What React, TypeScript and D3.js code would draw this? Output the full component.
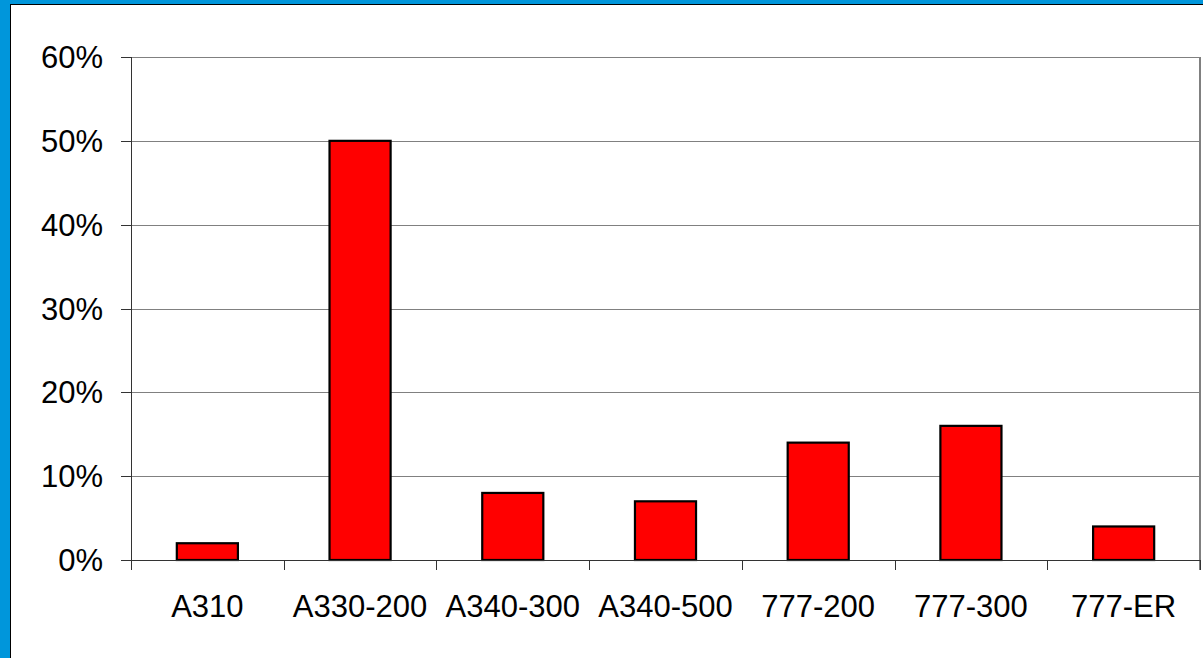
import React from "react";
import * as d3 from "d3";

// Share of fleet by aircraft type
const categories = ["A310", "A330-200", "A340-300", "A340-500", "777-200", "777-300", "777-ER"];
const shares = [2, 50, 8, 7, 14, 16, 4];
const yTicks = [0, 10, 20, 30, 40, 50, 60];

const W = 1203;
const H = 658;
const plot = { left: 131, top: 57, right: 1200, bottom: 560 };
const FONT = "'Liberation Sans', Arial, sans-serif";

export default function App() {
  const x = d3
    .scaleBand<string>()
    .domain(categories)
    .range([plot.left, plot.right])
    .paddingInner(0.6)
    .paddingOuter(0.3);
  const band = d3.scaleBand<string>().domain(categories).range([plot.left, plot.right]);
  const y = d3.scaleLinear().domain([0, 60]).range([plot.bottom, plot.top]);

  const boundaries = d3.range(categories.length + 1).map((i) => plot.left + i * band.step());

  return (
    <svg
      width={W}
      height={H}
      style={{ position: "fixed", left: 0, top: 0, display: "block" }}
      fontFamily={FONT}
    >
      <rect x={0} y={0} width={W} height={H} fill="#ffffff" />
      {/* frame */}
      <rect x={0} y={0} width={W} height={4} fill="#0096DB" />
      <rect x={0} y={0} width={10} height={H} fill="#0096DB" />
      <line x1={10.5} y1={4} x2={10.5} y2={H} stroke="#000" strokeWidth={1} />
      <line x1={10} y1={4.5} x2={W} y2={4.5} stroke="#000" strokeWidth={1} />

      {/* gridlines */}
      {yTicks.map((t) => (
        <line
          key={"g" + t}
          x1={plot.left}
          x2={plot.right}
          y1={Math.round(y(t)) + 0.5}
          y2={Math.round(y(t)) + 0.5}
          stroke="#808080"
          strokeWidth={1}
        />
      ))}
      <line
        x1={plot.right}
        x2={plot.right}
        y1={plot.top}
        y2={plot.bottom + 10}
        stroke="#808080"
        strokeWidth={2}
      />

      {/* bars */}
      {categories.map((c, i) => (
        <rect
          key={c}
          x={x(c)!}
          y={y(shares[i])}
          width={x.bandwidth()}
          height={y(0) - y(shares[i])}
          fill="#FF0000"
          stroke="#000"
          strokeWidth={2.2}
        />
      ))}

      {/* y axis */}
      <line x1={plot.left + 0.5} x2={plot.left + 0.5} y1={plot.top} y2={plot.bottom + 10} stroke="#333" strokeWidth={1} />
      {yTicks.map((t) => (
        <g key={"y" + t}>
          <line
            x1={plot.left - 10}
            x2={plot.left}
            y1={Math.round(y(t)) + 0.5}
            y2={Math.round(y(t)) + 0.5}
            stroke="#333"
            strokeWidth={1}
          />
          <text x={103} y={y(t) + 11} textAnchor="end" fontSize={31} fill="#000">
            {t}%
          </text>
        </g>
      ))}

      {/* x axis */}
      <line x1={plot.left} x2={plot.right} y1={plot.bottom + 0.5} y2={plot.bottom + 0.5} stroke="#333" strokeWidth={1} />
      {boundaries.map((bx, i) => (
        <line
          key={"xt" + i}
          x1={Math.round(bx) + 0.5}
          x2={Math.round(bx) + 0.5}
          y1={plot.bottom}
          y2={plot.bottom + 10}
          stroke="#333"
          strokeWidth={1}
        />
      ))}
      {categories.map((c) => (
        <text
          key={"xl" + c}
          x={band(c)! + band.bandwidth() / 2}
          y={617}
          textAnchor="middle"
          fontSize={31}
          fill="#000"
        >
          {c}
        </text>
      ))}
    </svg>
  );
}
